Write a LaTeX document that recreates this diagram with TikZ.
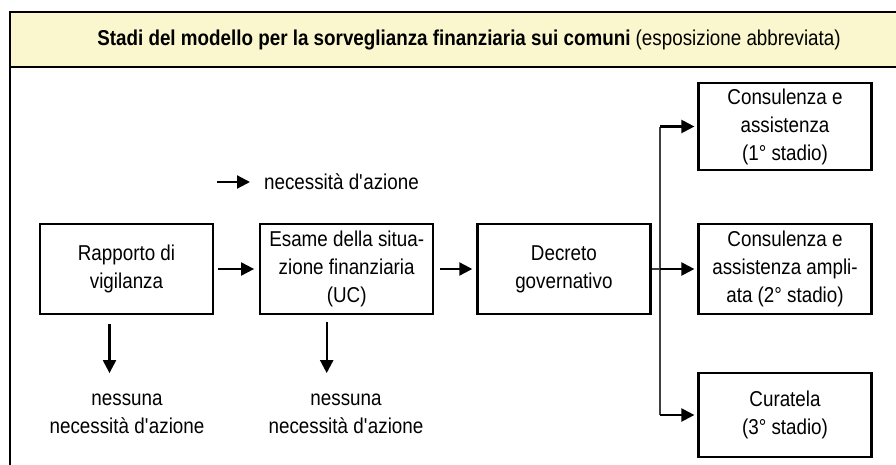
\documentclass[tikz,border=0pt]{standalone}
\usepackage{fontspec}
\setmainfont{Liberation Sans}[FakeStretch=0.875]
\usepackage{xcolor}
\usetikzlibrary{arrows.meta,positioning}

\definecolor{headfill}{HTML}{FAF7CE}
\newcommand{\azione}{necessità d\textquotesingle azione}

\begin{document}
\begin{tikzpicture}[x=1pt,y=-1pt,>={Triangle[length=13pt,width=13pt]},line width=2.2pt]
            \tikzset{box/.style={draw, line width=2.2pt, minimum width=173pt, minimum height=90pt, inner sep=0pt, align=center, font=\fontsize{21.5}{28}\selectfont},
                     txt/.style={inner sep=0pt, align=center, font=\fontsize{21.5}{28}\selectfont},
                     thin line/.style={line width=1.1pt, black!75}}
            \useasboundingbox (0,0) rectangle (896,464);
            \begin{scope}
            \clip (0,0) rectangle (896,464);
            \fill[headfill] (10,12) rectangle (910,67);
            \draw[line width=2.2pt] (10,480) -- (10,12) -- (910,12);
            \draw[line width=1.5pt] (10,67) -- (910,67);
            \end{scope}
            \node[txt] (title) at (469,40) {\textbf{Stadi del modello per la sorveglianza finanziaria sui comuni} (esposizione abbreviata)};
            % catena principale
            \node[box] (rap) at (126.5,269) {Rapporto di\\vigilanza};
            \node[box] (esa) [right=45pt of rap] {Esame della situa-\\zione finanziaria\\(UC)};
            \node[box] (dec) [right=42pt of esa] {Decreto\\governativo};
            \node[box, minimum height=87pt] (st1) at (785,126.5) {Consulenza e\\assistenza\\(1° stadio)};
            \node[box] (st2) at (785,269) {Consulenza e\\assistenza ampli-\\ata (2° stadio)};
            \node[box, minimum height=84pt] (st3) at (785,415) {Curatela\\(3° stadio)};
            \node[txt] (no1) at (127,414) {nessuna\\\azione};
            \node[txt] (no2) at (346,414) {nessuna\\\azione};
            \node[txt, anchor=west] (leg) at (263,182) {\azione};
            \coordinate (fork) at (660,269);
            \path[->] (rap) edge[shorten <=4pt, shorten >=5pt] (esa);
            \path[->] (esa) edge[shorten <=6pt, shorten >=4pt] (dec);
            \draw[thin line] (dec.east) -- (fork);
            \draw[thin line] (fork |- st1) -- (fork |- st3);
            \draw[->, shorten >=3pt] (fork |- st1) -- (st1.west);
            \draw[->, shorten >=3pt] (fork) -- (st2.west);
            \draw[->, shorten >=3pt] (fork |- st3) -- (st3.west);
            \draw[->] ([xshift=-17pt, yshift=-9pt]rap.south) -- ([xshift=-17pt, yshift=-58pt]rap.south);
            \draw[->] ([xshift=-20pt, yshift=-7pt]esa.south) -- ([xshift=-20pt, yshift=-58pt]esa.south);
            \draw[->] ([xshift=-46pt]leg.west) -- ([xshift=-13pt]leg.west);
        \end{tikzpicture}
\end{document}
